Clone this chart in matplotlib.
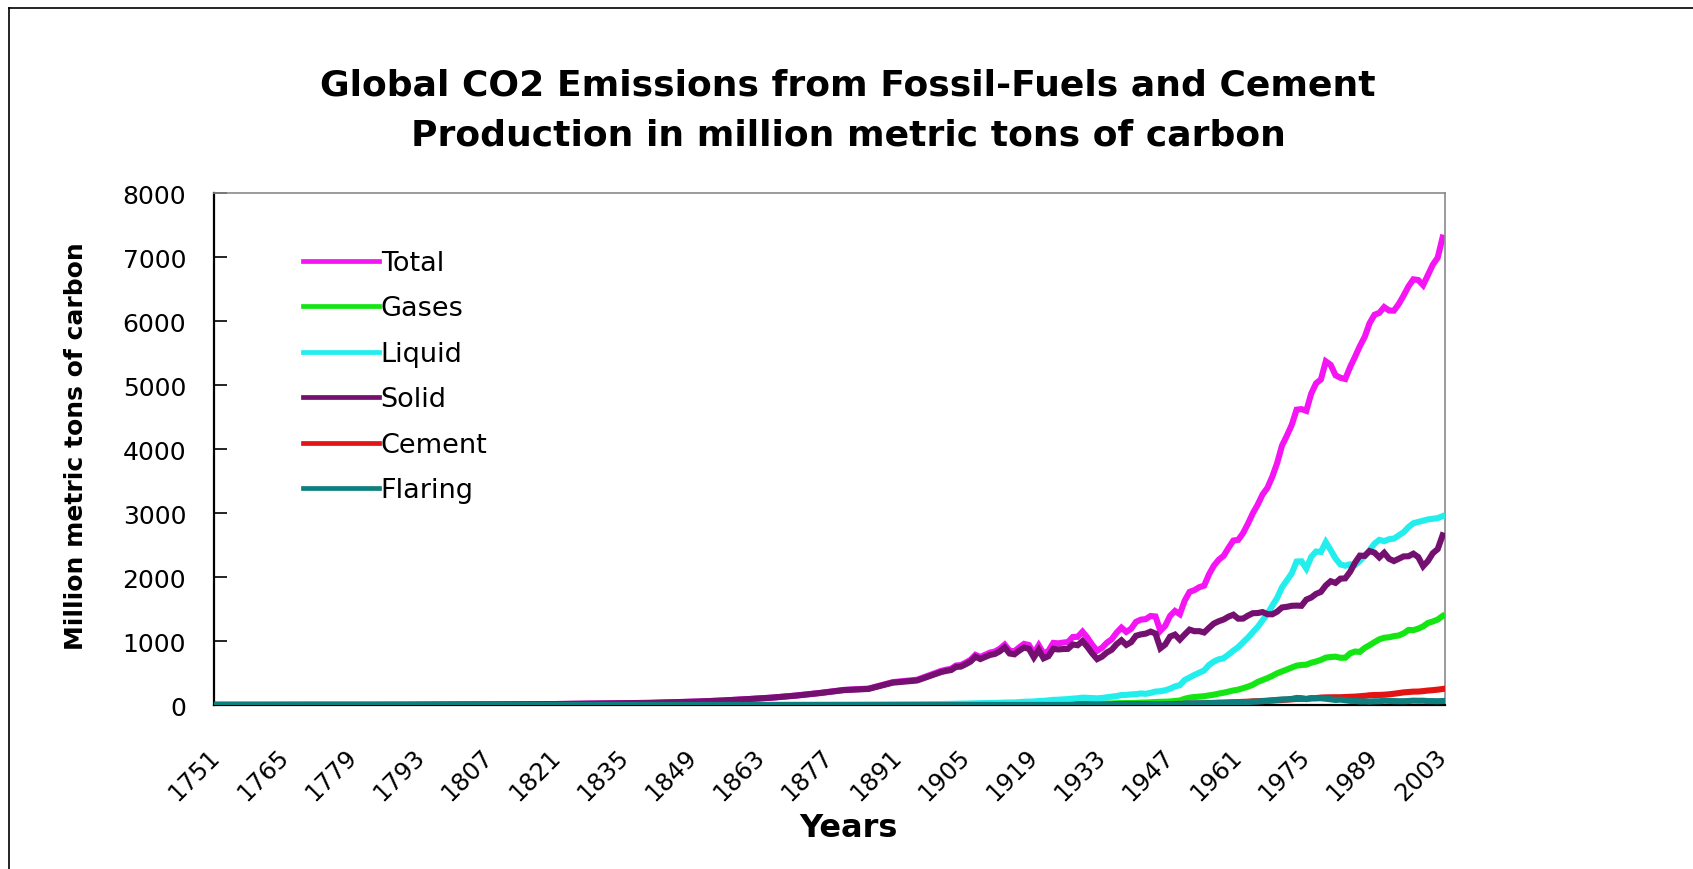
import matplotlib
matplotlib.use("Agg")
import matplotlib.pyplot as plt
import matplotlib.transforms as mtransforms
from matplotlib.lines import Line2D

# years: sparse before 1900, yearly after
years = [1751, 1760, 1770, 1780, 1790, 1800, 1810, 1820, 1830, 1840,
         1850, 1855, 1860, 1865, 1870, 1875, 1880, 1885, 1890, 1895] + list(range(1900, 2004))

total = [3, 3, 4, 4, 5, 8, 10, 14, 24, 33, 54, 70, 91, 114, 147, 188, 236, 256, 357, 395,
         534, 552, 566, 617, 624, 663, 707, 784, 750, 785, 819, 836, 879, 943, 850, 838, 901, 955, 936, 806,
         932, 803, 845, 970, 963, 975, 983, 1062, 1065, 1145, 1053, 940, 847, 893, 973, 1027, 1130, 1209, 1142, 1192,
         1299, 1334, 1342, 1391, 1383, 1160, 1238, 1392, 1469, 1419,
         1630, 1767, 1795, 1841, 1865, 2042, 2177, 2270, 2330, 2454,
         2569, 2580, 2686, 2833, 2995, 3130, 3288, 3393, 3566, 3780,
         4053, 4208, 4376, 4614, 4623, 4596, 4864, 5026, 5087, 5369,
         5315, 5152, 5113, 5094, 5280, 5439, 5607, 5752, 5965, 6097,
         6127, 6217, 6164, 6162, 6266, 6398, 6542, 6651, 6640, 6560,
         6720, 6880, 6990, 7303]

gases = [0, 0, 0, 0, 0, 0, 0, 0, 0, 0, 0, 0, 0, 0, 0, 0, 0, 1, 2, 2,
         3, 3, 3, 3, 3, 4, 4, 4, 4, 4, 5, 5, 5, 5, 6, 6, 6, 7, 7, 7,
         9, 9, 10, 12, 13, 13, 14, 16, 17, 22, 24, 20, 20, 21, 24, 24, 27, 29, 30, 31,
         33, 37, 39, 42, 47, 50, 51, 55, 63, 70,
         97, 115, 124, 131, 138, 150, 161, 178, 192, 209,
         227, 240, 263, 286, 316, 360, 390, 420, 455, 495,
         525, 555, 585, 615, 625, 630, 660, 680, 705, 740,
         750, 755, 738, 739, 807, 835, 830, 892, 935, 982,
         1026, 1051, 1058, 1076, 1086, 1120, 1173, 1170, 1193, 1228,
         1282, 1305, 1335, 1390]

liquid = [0, 0, 0, 0, 0, 0, 0, 0, 0, 0, 0, 0, 0, 0, 1, 2, 3, 4, 6, 10,
          15, 16, 17, 19, 21, 22, 24, 26, 28, 30, 32, 33, 35, 38, 39, 40, 45, 50, 52, 55,
          62, 65, 72, 80, 82, 88, 92, 100, 105, 115, 112, 108, 104, 110, 120, 130, 140, 155, 158, 165,
          170, 180, 175, 190, 210, 215, 230, 255, 290, 310,
          390, 430, 470, 505, 540, 625, 679, 714, 731, 789,
          849, 904, 980, 1052, 1137, 1219, 1323, 1423, 1551, 1673,
          1839, 1947, 2057, 2241, 2245, 2132, 2314, 2398, 2392, 2544,
          2422, 2289, 2196, 2176, 2199, 2186, 2250, 2330, 2420, 2520,
          2580, 2560, 2590, 2600, 2650, 2700, 2780, 2840, 2860, 2880,
          2900, 2910, 2920, 2950]

solid = [3, 3, 4, 4, 5, 8, 10, 14, 24, 33, 54, 70, 91, 114, 146, 186, 233, 251, 349, 383,
         516, 533, 546, 595, 600, 637, 679, 754, 718, 751, 782, 798, 839, 900, 805, 792, 850, 898, 877, 744,
         861, 729, 763, 878, 868, 874, 877, 946, 934, 998, 908, 805, 717, 755, 820, 863, 950, 1011, 939, 982,
         1082, 1103, 1115, 1147, 1116, 886, 945, 1069, 1100, 1022,
         1102, 1178, 1153, 1154, 1133, 1206, 1273, 1309, 1336, 1380,
         1411, 1349, 1350, 1397, 1434, 1437, 1452, 1419, 1417, 1458,
         1524, 1534, 1550, 1553, 1550, 1647, 1679, 1736, 1768, 1868,
         1934, 1908, 1974, 1979, 2081, 2223, 2334, 2330, 2405, 2381,
         2306, 2378, 2285, 2249, 2285, 2322, 2324, 2364, 2311, 2168,
         2251, 2372, 2436, 2651]

cement = [0, 0, 0, 0, 0, 0, 0, 0, 0, 0, 0, 0, 0, 0, 0, 0, 0, 0, 0, 0,
          0, 0, 0, 0, 0, 0, 0, 0, 0, 0, 0, 0, 0, 0, 0, 0, 0, 0, 0, 0,
          0, 0, 0, 0, 0, 0, 0, 0, 9, 10, 9, 7, 6, 7, 9, 10, 13, 14, 15, 14,
          14, 14, 13, 12, 10, 9, 12, 13, 16, 17,
          18, 20, 22, 24, 27, 30, 32, 34, 36, 40,
          43, 45, 49, 51, 57, 59, 63, 65, 70, 74,
          78, 84, 89, 95, 96, 95, 103, 108, 116, 119,
          120, 121, 121, 125, 128, 131, 137, 143, 152, 156,
          157, 161, 167, 176, 186, 197, 203, 209, 210, 217,
          226, 232, 240, 250]

flaring = [0, 0, 0, 0, 0, 0, 0, 0, 0, 0, 0, 0, 0, 0, 0, 0, 0, 0, 0, 0,
           0, 0, 0, 0, 0, 0, 0, 0, 0, 0, 0, 0, 0, 0, 0, 0, 0, 0, 0, 0,
           0, 0, 0, 0, 0, 0, 0, 0, 0, 0, 0, 0, 0, 0, 0, 0, 0, 0, 0, 0,
           0, 0, 0, 0, 0, 0, 0, 0, 0, 0,
           23, 24, 26, 27, 27, 31, 32, 35, 35, 36,
           39, 42, 44, 47, 51, 55, 60, 66, 73, 80,
           87, 88, 95, 110, 107, 92, 108, 104, 106, 98,
           89, 79, 84, 75, 65, 64, 56, 57, 53, 58,
           58, 67, 64, 61, 59, 59, 62, 68, 66, 67,
           61, 61, 59, 62]

series_names = ["Total", "Gases", "Liquid", "Solid", "Cement", "Flaring"]
series_colors = ["#F414F4", "#14E614", "#22EEEE", "#74106F", "#E41414", "#0E7E7E"]
tick_years = list(range(1751, 2004, 14))
y_ticks = list(range(0, 8001, 1000))

W, H = 1693, 870
fig = plt.figure(figsize=(W / 100, H / 100), dpi=100)
ax = fig.add_axes([214 / W, 1 - 706 / H, (1445 - 214) / W, (706 - 194) / H])

for i, (name, vals, col) in enumerate(zip(series_names,
                                          [total, gases, liquid, solid, cement, flaring],
                                          series_colors)):
    ax.plot(years, vals, color=col, lw=4.4, label=name, zorder=2 + i,
            solid_joinstyle="miter")

ax.set_xlim(1750.5, 2003.5)
ax.set_ylim(0, 8000)
ax.set_yticks(y_ticks)
ax.set_yticklabels([str(v) for v in y_ticks], fontsize=18, family="DejaVu Sans")
ax.set_xticks(tick_years)
ax.set_xticklabels([str(y) for y in tick_years], fontsize=17.5, family="DejaVu Sans",
                   rotation=45, ha="right", va="center", rotation_mode="anchor")
ax.tick_params(axis="y", direction="in", length=9, width=1.2, pad=20)
ax.tick_params(axis="x", length=0, pad=34)
shift = mtransforms.ScaledTranslation(0.0, 0, fig.dpi_scale_trans)
for lab in ax.get_xticklabels():
    lab.set_transform(lab.get_transform() + shift)

for s in ["left", "bottom"]:
    ax.spines[s].set_color("black")
    ax.spines[s].set_linewidth(1.6)
for s in ["top", "right"]:
    ax.spines[s].set_color("#8a8a8a")
    ax.spines[s].set_linewidth(1.2)

leg = ax.legend(loc="upper left", bbox_to_anchor=(303 / W, 1 - 251 / H),
                bbox_transform=fig.transFigure, frameon=False,
                borderpad=0, borderaxespad=0, handlelength=2.8,
                handletextpad=0.07, labelspacing=0.72,
                prop={"family": "DejaVu Sans", "size": 19.5})
for ln in leg.get_lines():
    ln.set_linewidth(3.4)

fig.text(848 / W, 1 - 86 / H, "Global CO2 Emissions from Fossil-Fuels and Cement",
         ha="center", va="center", fontsize=26, fontweight="bold", family="DejaVu Sans")
fig.text(848 / W, 1 - 135 / H, "Production in million metric tons of carbon",
         ha="center", va="center", fontsize=26, fontweight="bold", family="DejaVu Sans")
fig.text(76 / W, 1 - 446 / H, "Million metric tons of carbon", rotation=90,
         ha="center", va="center", fontsize=18, fontweight="bold", family="DejaVu Sans")
fig.text(848 / W, 1 - 829 / H, "Years", ha="center", va="center",
         fontsize=23, fontweight="bold", family="DejaVu Sans")

# outer chart border
fig.add_artist(Line2D([9 / W, 9 / W], [0, 1 - 9 / H], transform=fig.transFigure,
                      color="black", lw=1.2))
fig.add_artist(Line2D([9 / W, 1], [1 - 9 / H, 1 - 9 / H], transform=fig.transFigure,
                      color="black", lw=1.2))

fig.savefig("out.png", dpi=100)
